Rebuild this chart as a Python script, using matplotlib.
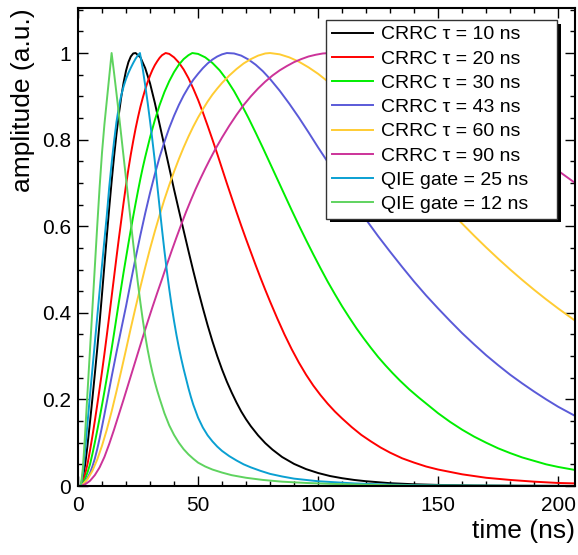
import matplotlib
matplotlib.use("Agg")
import matplotlib.pyplot as plt
from matplotlib.ticker import MultipleLocator
from matplotlib.patches import Rectangle

plt.rcParams['font.family'] = ['Liberation Sans', 'DejaVu Sans']

# ---- data (time in ns, amplitude in a.u.) ----
t_crrc10 = [0, 1, 1.5, 2, 3, 4, 5, 6, 7, 8, 9, 10, 11, 12, 13, 14, 15, 16, 17, 18, 19, 20, 21, 22,
            23, 24, 26, 28, 30, 32, 34, 36, 38, 40, 42, 44, 46, 48, 50, 52, 54, 56, 58, 60, 62, 64,
            66, 68, 70, 72, 75, 78, 81, 85, 90, 95, 100, 105, 110, 115, 120, 130, 140, 150, 165,
            185, 207]
a_crrc10 = [0, 0, 0.007, 0.018, 0.05, 0.096, 0.148, 0.202, 0.258, 0.316, 0.378, 0.443, 0.51, 0.577,
            0.642, 0.703, 0.76, 0.812, 0.858, 0.898, 0.932, 0.959, 0.979, 0.992, 0.999, 1.0, 0.99,
            0.965, 0.93, 0.885, 0.835, 0.785, 0.735, 0.685, 0.637, 0.59, 0.543, 0.497, 0.453, 0.411,
            0.371, 0.334, 0.3, 0.269, 0.241, 0.216, 0.193, 0.172, 0.154, 0.138, 0.117, 0.099, 0.084,
            0.067, 0.051, 0.039, 0.03, 0.023, 0.018, 0.014, 0.011, 0.0065, 0.004, 0.0025, 0.0012,
            0.0005, 0.0002]

t_crrc20 = [0, 1, 2, 3, 4, 5, 6, 7, 8, 9, 10, 11, 12, 13, 14, 15, 16, 17, 18, 19, 20, 21, 22, 23,
            24, 25, 26, 27, 28, 29, 30, 31, 32, 33, 34, 35, 36.5, 38, 40, 42, 44, 46, 48, 50, 52, 54,
            56, 58, 60, 62, 64, 66, 68, 70, 72, 74, 76, 78, 80, 83, 86, 89, 92, 95, 98, 101, 104, 107,
            110, 114, 118, 122, 126, 130, 135, 140, 145, 150, 160, 170, 180, 190, 200, 207]
a_crrc20 = [0, 0, 0.01, 0.028, 0.052, 0.082, 0.115, 0.15, 0.187, 0.225, 0.264, 0.305, 0.348, 0.392,
            0.437, 0.482, 0.527, 0.571, 0.613, 0.655, 0.695, 0.732, 0.766, 0.797, 0.826, 0.852,
            0.876, 0.897, 0.916, 0.933, 0.948, 0.961, 0.972, 0.981, 0.989, 0.995, 1.0, 0.998, 0.99,
            0.978, 0.962, 0.942, 0.918, 0.892, 0.863, 0.832, 0.8, 0.767, 0.733, 0.699, 0.666, 0.633,
            0.601, 0.57, 0.54, 0.51, 0.481, 0.453, 0.426, 0.387, 0.35, 0.316, 0.285, 0.257, 0.232,
            0.21, 0.19, 0.172, 0.156, 0.136, 0.118, 0.103, 0.089, 0.077, 0.064, 0.054, 0.045, 0.038,
            0.027, 0.019, 0.014, 0.01, 0.007, 0.006]

t_crrc30 = [0, 1, 2, 3, 4, 5, 6, 7, 8, 9, 10, 11, 12, 13, 14, 15, 16, 17, 18, 19, 20, 21, 22, 23,
            24, 25, 26, 27, 28, 30, 32, 34, 36, 38, 40, 42, 44, 46, 47.6, 50, 53, 56, 59, 62, 65, 68,
            71, 74, 77, 80, 83, 86, 89, 92, 95, 98, 101, 104, 107, 110, 113, 116, 119, 122, 125, 128,
            131, 134, 138, 142, 146, 150, 155, 160, 165, 170, 175, 180, 185, 190, 195, 200, 207]
a_crrc30 = [0, 0, 0.006, 0.017, 0.032, 0.05, 0.074, 0.1, 0.128, 0.157, 0.187, 0.218, 0.25, 0.283,
            0.317, 0.352, 0.388, 0.424, 0.459, 0.494, 0.527, 0.56, 0.592, 0.623, 0.653, 0.682, 0.71,
            0.736, 0.76, 0.805, 0.845, 0.88, 0.91, 0.935, 0.956, 0.973, 0.986, 0.995, 1.0, 0.998,
            0.99, 0.977, 0.96, 0.938, 0.912, 0.882, 0.85, 0.816, 0.781, 0.745, 0.709, 0.673, 0.637,
            0.602, 0.568, 0.535, 0.503, 0.472, 0.443, 0.415, 0.389, 0.364, 0.341, 0.319, 0.298,
            0.279, 0.261, 0.244, 0.223, 0.204, 0.186, 0.168, 0.148, 0.13, 0.114, 0.1, 0.087, 0.076,
            0.066, 0.058, 0.05, 0.044, 0.037]

t_crrc43 = [0, 1, 2, 3, 4, 5, 6, 7, 8, 9, 10, 11, 12, 13, 14, 15, 16, 17, 18, 20, 22, 24, 26, 28,
            30, 32, 34, 36, 38, 40, 42, 44, 46, 48, 50, 52, 54, 56, 58, 60, 62, 65, 68, 71, 74, 77,
            80, 84, 88, 92, 96, 100, 105, 110, 115, 120, 125, 130, 135, 140, 145, 150, 155, 160, 165,
            170, 175, 180, 185, 190, 195, 200, 207]
a_crrc43 = [0, 0, 0.004, 0.01, 0.019, 0.03, 0.045, 0.063, 0.085, 0.11, 0.137, 0.165, 0.194, 0.223,
            0.252, 0.28, 0.308, 0.335, 0.362, 0.415, 0.472, 0.527, 0.58, 0.63, 0.677, 0.72, 0.76,
            0.795, 0.827, 0.855, 0.88, 0.902, 0.921, 0.938, 0.952, 0.965, 0.976, 0.985, 0.992, 0.997,
            1.0, 0.999, 0.994, 0.985, 0.973, 0.958, 0.94, 0.913, 0.883, 0.851, 0.817, 0.782, 0.74,
            0.697, 0.655, 0.615, 0.577, 0.541, 0.506, 0.472, 0.44, 0.41, 0.381, 0.353, 0.327, 0.302,
            0.279, 0.257, 0.237, 0.218, 0.2, 0.183, 0.162]

t_crrc60 = [0, 1, 2, 4, 6, 8, 10, 12, 14, 16, 18, 20, 22, 24, 26, 28, 30, 32, 34, 36, 38, 40, 42,
            44, 46, 48, 50, 52, 54, 56, 58, 60, 63, 66, 69, 72, 75, 78, 80, 84, 88, 92, 96, 100, 105,
            110, 115, 120, 125, 130, 135, 140, 145, 150, 155, 160, 165, 170, 175, 180, 185, 190, 195,
            200, 207]
a_crrc60 = [0, 0, 0.004, 0.016, 0.035, 0.061, 0.093, 0.13, 0.172, 0.218, 0.266, 0.315, 0.365,
            0.413, 0.46, 0.505, 0.548, 0.588, 0.626, 0.662, 0.695, 0.726, 0.755, 0.782, 0.807, 0.83,
            0.851, 0.87, 0.888, 0.904, 0.918, 0.931, 0.948, 0.963, 0.976, 0.986, 0.994, 0.999, 1.0,
            0.997, 0.99, 0.98, 0.967, 0.952, 0.93, 0.905, 0.878, 0.849, 0.819, 0.788, 0.757, 0.726,
            0.695, 0.665, 0.635, 0.606, 0.578, 0.551, 0.525, 0.5, 0.476, 0.453, 0.431, 0.41, 0.382]

t_crrc90 = [0, 1, 3, 5, 7, 9, 11, 13, 15, 17, 19, 21, 23, 25, 27, 29, 31, 33, 35, 37, 39, 41, 43,
            45, 47, 49, 51, 53, 55, 57, 60, 63, 66, 69, 72, 75, 78, 81, 84, 87, 90, 93, 96, 99, 102,
            105, 110, 120, 130, 140, 150, 160, 170, 180, 190, 200, 207]
a_crrc90 = [0, 0, 0.004, 0.012, 0.025, 0.043, 0.067, 0.097, 0.13, 0.165, 0.2, 0.236, 0.272, 0.308,
            0.344, 0.379, 0.413, 0.446, 0.478, 0.511, 0.543, 0.574, 0.604, 0.633, 0.66, 0.686, 0.71,
            0.733, 0.755, 0.776, 0.805, 0.832, 0.857, 0.88, 0.9, 0.918, 0.934, 0.948, 0.96, 0.97,
            0.979, 0.986, 0.992, 0.996, 0.999, 1.0, 0.999, 0.99, 0.972, 0.948, 0.918, 0.884, 0.847,
            0.808, 0.768, 0.728, 0.7]

t_qie25 = [0, 1, 1.5, 2, 2.5, 3, 4, 5, 6, 7, 8, 9, 10, 11, 12, 13, 14, 15, 16, 17, 18, 19, 20, 21,
           22, 23, 24, 25, 25.8, 27, 28, 29, 30, 31, 32, 33, 34, 35, 36, 37, 38, 39, 40, 41, 42, 43,
           44, 45, 46, 47, 48, 50, 52, 54, 56, 58, 60, 63, 66, 69, 72, 76, 80, 85, 90, 95, 100, 106,
           115, 125, 140, 160, 207]
a_qie25 = [0, 0, 0.01, 0.028, 0.055, 0.085, 0.148, 0.21, 0.27, 0.33, 0.39, 0.45, 0.51, 0.568,
           0.625, 0.69, 0.745, 0.795, 0.84, 0.875, 0.902, 0.923, 0.94, 0.954, 0.966, 0.977, 0.987,
           0.995, 1.0, 0.962, 0.925, 0.886, 0.843, 0.798, 0.75, 0.695, 0.643, 0.592, 0.543, 0.497,
           0.455, 0.416, 0.381, 0.349, 0.32, 0.294, 0.27, 0.248, 0.226, 0.206, 0.188, 0.158, 0.135,
           0.117, 0.103, 0.091, 0.081, 0.069, 0.059, 0.05, 0.043, 0.035, 0.028, 0.022, 0.017, 0.014,
           0.011, 0.009, 0.006, 0.004, 0.002, 0.001, 0.0]

t_qie12 = [0, 1, 1.5, 2, 2.5, 3, 4, 5, 6, 7, 8, 9, 10, 11, 12, 13, 14, 15, 16, 17, 18, 19, 20, 21,
           22, 23, 24, 25, 26, 27, 28, 29, 30, 31, 32, 33, 34, 36, 38, 40, 42, 44, 46, 48, 50, 53,
           56, 60, 64, 70, 77, 85, 95, 105, 120, 140, 207]
a_qie12 = [0, 0, 0.015, 0.04, 0.08, 0.125, 0.22, 0.315, 0.41, 0.505, 0.6, 0.69, 0.77, 0.835, 0.89,
           0.945, 1.0, 0.955, 0.908, 0.86, 0.81, 0.76, 0.71, 0.66, 0.61, 0.56, 0.512, 0.466, 0.423,
           0.383, 0.347, 0.315, 0.287, 0.262, 0.24, 0.22, 0.202, 0.168, 0.14, 0.118, 0.1, 0.085,
           0.073, 0.063, 0.054, 0.045, 0.038, 0.031, 0.025, 0.019, 0.014, 0.01, 0.007, 0.005,
           0.003, 0.001, 0.0]

labels = ["CRRC \u03c4 = 10 ns", "CRRC \u03c4 = 20 ns", "CRRC \u03c4 = 30 ns", "CRRC \u03c4 = 43 ns",
          "CRRC \u03c4 = 60 ns", "CRRC \u03c4 = 90 ns", "QIE gate = 25 ns", "QIE gate = 12 ns"]
colors = ["#000000", "#ff0000", "#00ee00", "#5a5ad8", "#ffcc33", "#cc3399", "#0aa0d2", "#5fd35f"]

series = [(t_crrc10, a_crrc10), (t_crrc20, a_crrc20), (t_crrc30, a_crrc30), (t_crrc43, a_crrc43),
          (t_crrc60, a_crrc60), (t_crrc90, a_crrc90), (t_qie25, a_qie25), (t_qie12, a_qie12)]

# ---- figure ----
W, H = 578, 555
AX_L, AX_R, AX_T, AX_B = 78, 575, 8, 486
fig = plt.figure(figsize=(W / 100, H / 100), dpi=100)
ax = fig.add_axes([AX_L / W, 1 - AX_B / H, (AX_R - AX_L) / W, (AX_B - AX_T) / H])

for (t, a), c, lab in zip(series, colors, labels):
    ax.plot(t, a, color=c, lw=1.4, label=lab, solid_joinstyle='round', zorder=2)

ax.set_xlim(0, 207)
ax.set_ylim(0, 1.104)
ax.xaxis.set_major_locator(MultipleLocator(50))
ax.xaxis.set_minor_locator(MultipleLocator(10))
ax.yaxis.set_major_locator(MultipleLocator(0.2))
ax.yaxis.set_minor_locator(MultipleLocator(0.05))
ax.yaxis.set_major_formatter(plt.FuncFormatter(
    lambda v, p: "0" if abs(v) < 1e-9 else ("1" if abs(v - 1) < 1e-9 else f"{v:.1f}")))

ax.tick_params(which='both', direction='in', top=True, right=True, width=1.0, labelsize=15)
ax.tick_params(which='major', length=7)
ax.tick_params(which='minor', length=3.8)
ax.tick_params(axis='x', pad=7)
ax.tick_params(axis='y', pad=5)
for s in ax.spines.values():
    s.set_linewidth(1.5)

ax.set_xlabel("time (ns)", fontsize=19, loc='right', labelpad=3)
ax.set_ylabel("amplitude (a.u.)", fontsize=19, loc='top', labelpad=5)

leg = ax.legend(loc='upper left',
                bbox_to_anchor=(326 / W, 1 - 217 / H, (557 - 326) / W, (217 - 20) / H),
                bbox_transform=fig.transFigure, mode='expand', fontsize=14, frameon=True,
                fancybox=False, shadow=False, edgecolor='#333333',
                framealpha=1, borderpad=0.3, labelspacing=0.34, handlelength=2.1,
                handletextpad=0.45, borderaxespad=0)
leg.get_frame().set_linewidth(1.0)
leg.set_zorder(5)

# black drop shadow of the legend box (ROOT style), offset 4 px right / down
AW, AH = AX_R - AX_L, AX_B - AX_T
shadow = Rectangle(((330 - AX_L) / AW, (AX_B - 222) / AH), 231 / AW, 198 / AH,
                   transform=ax.transAxes, facecolor='black', edgecolor='none',
                   zorder=4.5, clip_on=False)
ax.add_patch(shadow)

fig.savefig("out.png", dpi=100)
